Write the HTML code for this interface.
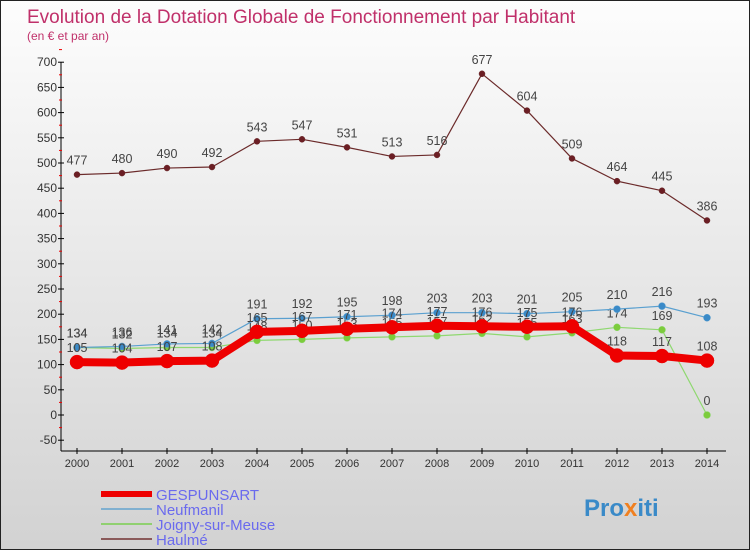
<!DOCTYPE html>
<html><head><meta charset="utf-8"><style>
body{margin:0}
#c{width:750px;height:550px;position:relative;overflow:hidden;font-family:"Liberation Sans",sans-serif;background:linear-gradient(#fdfdfd,#d2d2d2);box-sizing:border-box;border:1px solid #222}
</style></head><body>
<div id="c">
<svg id="s" width="750" height="550" style="position:absolute;left:0;top:0"></svg>
</div>
<script>
const years=[2000,2001,2002,2003,2004,2005,2006,2007,2008,2009,2010,2011,2012,2013,2014];
const gespunsart=[105,104,107,108,165,167,171,174,177,176,175,176,118,117,108];
const neufmanil=[134,136,141,142,191,192,195,198,203,203,201,205,210,216,193];
const joigny=[134,132,134,134,148,150,153,155,157,162,155,163,174,169,0];
const haulme=[477,480,490,492,543,547,531,513,516,677,604,509,464,445,386];
const yTicks=[-50,0,50,100,150,200,250,300,350,400,450,500,550,600,650,700];
const svg=document.getElementById('s');const NS='http://www.w3.org/2000/svg';
function X(i){return 76+i*45;}
function Y(v){return 414-v*0.504;}
function el(t,a,p){const e=document.createElementNS(NS,t);for(const k in a)e.setAttribute(k,a[k]);(p||svg).appendChild(e);return e;}
let t=el('text',{x:26,y:22,fill:'#c0306a','font-size':19});t.textContent='Evolution de la Dotation Globale de Fonctionnement par Habitant';

t=el('text',{x:26,y:39,fill:'#c0306a','font-size':12});t.textContent='(en € et par an)';

let a=el('line',{x1:60,y1:61,x2:60,y2:450,stroke:'#000'});
a=el('line',{x1:60,y1:450,x2:725,y2:450,stroke:'#000'});
yTicks.forEach(v=>{el('line',{x1:57,y1:Y(v),x2:63,y2:Y(v),stroke:'#000'});
 el('line',{x1:58,y1:Y(v+25),x2:61,y2:Y(v+25),stroke:'#e00'});
 const l=el('text',{x:56,y:Y(v)+4,'text-anchor':'end','font-size':12,fill:'#333'});l.textContent=v;
 });
years.forEach((y,i)=>{el('line',{x1:X(i),y1:447,x2:X(i),y2:453,stroke:'#000'});
 const l=el('text',{x:X(i),y:466,'text-anchor':'middle','font-size':11,fill:'#333'});l.textContent=y;
 });
function series(d,color,w,r,name,dot){
 const g=el('g',{});
 el('polyline',{points:d.map((v,i)=>X(i)+','+Y(v)).join(' '),fill:'none',stroke:color,'stroke-width':w,'stroke-linejoin':'round'},g);
 d.forEach((v,i)=>{const c=el('circle',{cx:X(i),cy:Y(v),r:r,fill:dot,stroke:color,'stroke-width':0.5},g);
  
  const l=el('text',{x:X(i),y:Y(v)-10,'text-anchor':'middle','font-size':12.5,fill:'#444'},g);l.textContent=v;
  });
}
series(haulme,'#6b2a2a',1.2,3,'haulme','#6b1e24');
series(joigny,'#8fd870',1.2,3.5,'joigny-sur-meuse','#7ccc3c');
series(neufmanil,'#5aa0d0',1.2,3.5,'neufmanil','#3a8ac8');
series(gespunsart,'#ee0000',8,7,'gespunsart','#ee0000');
const leg=[['GESPUNSART','#ee0000',6],['Neufmanil','#80b0d0',2],['Joigny-sur-Meuse','#90d070',2],['Haulmé','#8a5a5a',2]];
leg.forEach((L,i)=>{const g=el('g',{});
 const y=493+i*15;el('line',{x1:100,y1:y,x2:151,y2:y,stroke:L[1],'stroke-width':L[2]},g);
 const tt=el('text',{x:155,y:y+6,'font-size':15,fill:'#6a6aee'},g);tt.textContent=L[0];});
t=el('text',{x:583,y:515,'font-size':24,'font-weight':'bold',fill:'#3a8ac8'});t.innerHTML='Pro<tspan fill="#f08020">x</tspan>iti';

</script>
</body></html>
